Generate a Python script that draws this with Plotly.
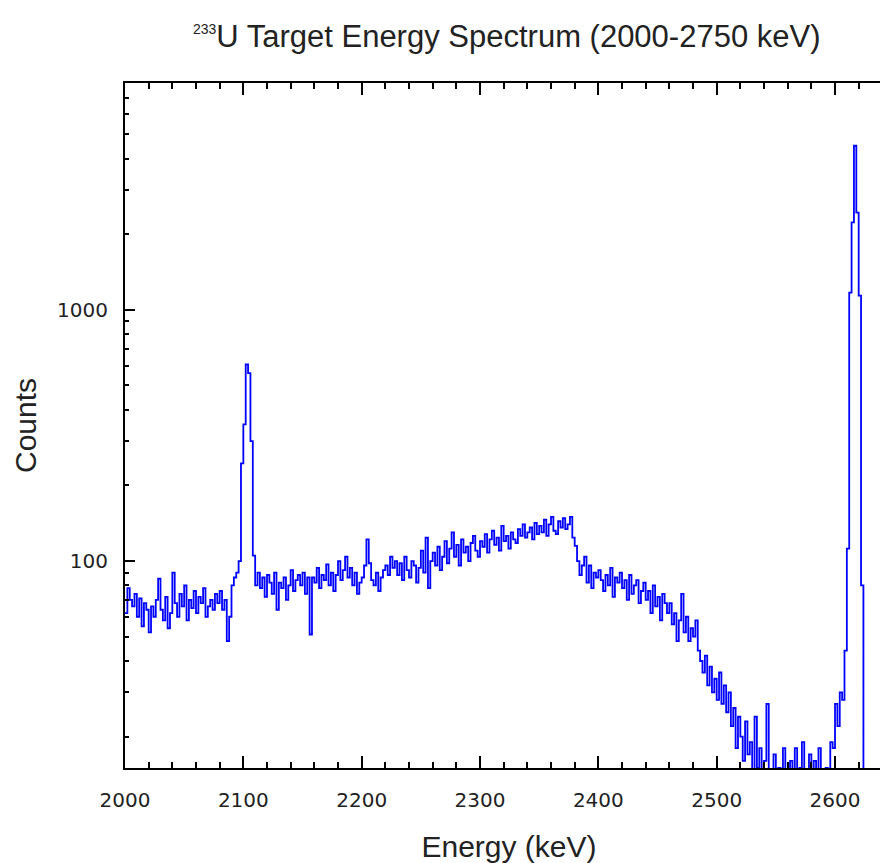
import numpy as np
import plotly.graph_objects as go

# Spectrum counts, 2 keV bins starting at 2000 keV
bin_start = 2000
bin_width = 2
counts = [
    62, 78, 70, 66, 74, 60, 71, 55, 68, 64,        # 2000
    52, 66, 60, 70, 85, 64, 58, 72, 54, 62,        # 2020
    90, 68, 60, 74, 66, 80, 58, 70, 65, 76,        # 2040
    62, 72, 68, 78, 60, 66, 70, 64, 74, 68,        # 2060
    76, 64, 70, 48, 60, 80, 86, 90, 100, 245,      # 2080
    350, 607, 560, 300, 105, 80, 90, 78, 86, 72,   # 2100
    88, 82, 74, 90, 64, 82, 78, 86, 70, 80,        # 2120
    92, 76, 84, 88, 80, 90, 74, 86, 51, 86,        # 2140
    82, 94, 78, 88, 84, 97, 80, 90, 76, 88,        # 2160
    100, 84, 92, 104, 86, 94, 80, 90, 74, 82,      # 2180
    86, 96, 122, 98, 84, 80, 90, 76, 86, 92,       # 2200
    96, 88, 104, 94, 100, 88, 98, 84, 104, 92,     # 2220
    86, 100, 96, 82, 94, 110, 90, 124, 78, 100,    # 2240
    108, 96, 114, 92, 104, 120, 98, 112, 130, 104, # 2260
    116, 96, 122, 108, 114, 100, 118, 126, 110, 104,  # 2280
    120, 114, 128, 108, 122, 132, 116, 124, 110, 138,  # 2300
    120, 126, 112, 130, 122, 118, 134, 126, 140, 124,  # 2320
    130, 136, 122, 142, 128, 138, 130, 146, 126, 140,  # 2340
    150, 132, 128, 144, 136, 148, 134, 140, 150, 124,  # 2360
    115, 100, 88, 96, 104, 82, 96, 78, 90, 86,     # 2380
    92, 84, 76, 88, 80, 94, 72, 86, 82, 90,        # 2400
    78, 84, 70, 88, 74, 80, 84, 68, 76, 82,        # 2420
    70, 76, 62, 80, 66, 72, 58, 74, 68, 62,        # 2440
    68, 56, 62, 48, 58, 74, 52, 60, 48, 54,        # 2460
    50, 58, 44, 40, 36, 42, 32, 38, 30, 34,        # 2480
    28, 36, 27, 32, 25, 30, 22, 26, 18, 24,        # 2500
    20, 16, 23, 17, 19, 14, 24, 15, 18, 13,        # 2520
    16, 27, 14, 12, 17, 13, 15, 11, 18, 14,        # 2540
    12, 16, 13, 18, 11, 15, 19, 14, 12, 17,        # 2560
    13, 16, 11, 18, 14, 12, 15, 13, 19, 18,        # 2580
    27, 22, 30, 28, 44, 112, 1170, 2230, 4500, 2440,  # 2600
    1140, 80, 9, 7, 6,                             # 2620
]
energy = bin_start + bin_width * np.arange(len(counts))

x_ticks = [2000, 2100, 2200, 2300, 2400, 2500, 2600]
y_ticks = [100, 1000]
y_minor = [20, 30, 40, 50, 60, 70, 80, 90,
           200, 300, 400, 500, 600, 700, 800, 900,
           2000, 3000, 4000, 5000, 6000, 7000]

x_range = [2000, 2649.0]
y_range = [np.log10(15), np.log10(8000)]

fig = go.Figure()
fig.add_trace(go.Scatter(
    x=energy, y=counts, mode="lines",
    line=dict(color="#0000FF", width=1.8, shape="hv"),
    showlegend=False,
))

tick_font = dict(family="DejaVu Sans", size=20, color="#222222")
title_font = dict(family="Liberation Sans, Arial", size=30, color="#222222")
main_title_font = dict(family="Liberation Sans, Arial", size=31, color="#222222")

fig.update_layout(
    width=885, height=855,
    margin=dict(l=117, r=0, t=75, b=95),
    paper_bgcolor="white", plot_bgcolor="white",
    title=dict(
        text='<sup><span style="font-size:14px">233</span></sup>U Target Energy Spectrum (2000-2750 keV)',
        font=main_title_font, x=0.497, xref="paper", xanchor="center",
        y=1 - 28 / 855, yref="container", yanchor="middle",
    ),
    xaxis=dict(
        range=x_range, tickvals=x_ticks, ticks="inside", ticklen=12, tickwidth=2,
        tickcolor="black", showline=True, linewidth=2, linecolor="black",
        mirror="ticks", showgrid=False, zeroline=False,
        minor=dict(dtick=20, ticks="inside", ticklen=6, tickwidth=1.5, tickcolor="black", showgrid=False),
        tickfont=tick_font, ticklabelstandoff=13,
        title=dict(text="Energy (keV)", font=title_font, standoff=26),
    ),
    yaxis=dict(
        type="log", range=y_range, tickvals=y_ticks, ticktext=["100", "1000"],
        ticks="inside", ticklen=10, tickwidth=2, tickcolor="black",
        showline=True, linewidth=2, linecolor="black", showgrid=False, zeroline=False,
        minor=dict(tickvals=y_minor, ticks="inside", ticklen=4, tickwidth=1.5, tickcolor="black", showgrid=False),
        tickfont=tick_font, ticklabelstandoff=11,
        title=dict(text="Counts", font=title_font, standoff=12),
    ),
    yaxis2=dict(
        type="log", overlaying="y", side="right", matches="y",
        tickvals=y_ticks, ticks="inside", ticklen=10, tickwidth=2, tickcolor="black",
        showticklabels=False, showline=False, showgrid=False, zeroline=False,
    ),
)

fig.write_html("out.html")
